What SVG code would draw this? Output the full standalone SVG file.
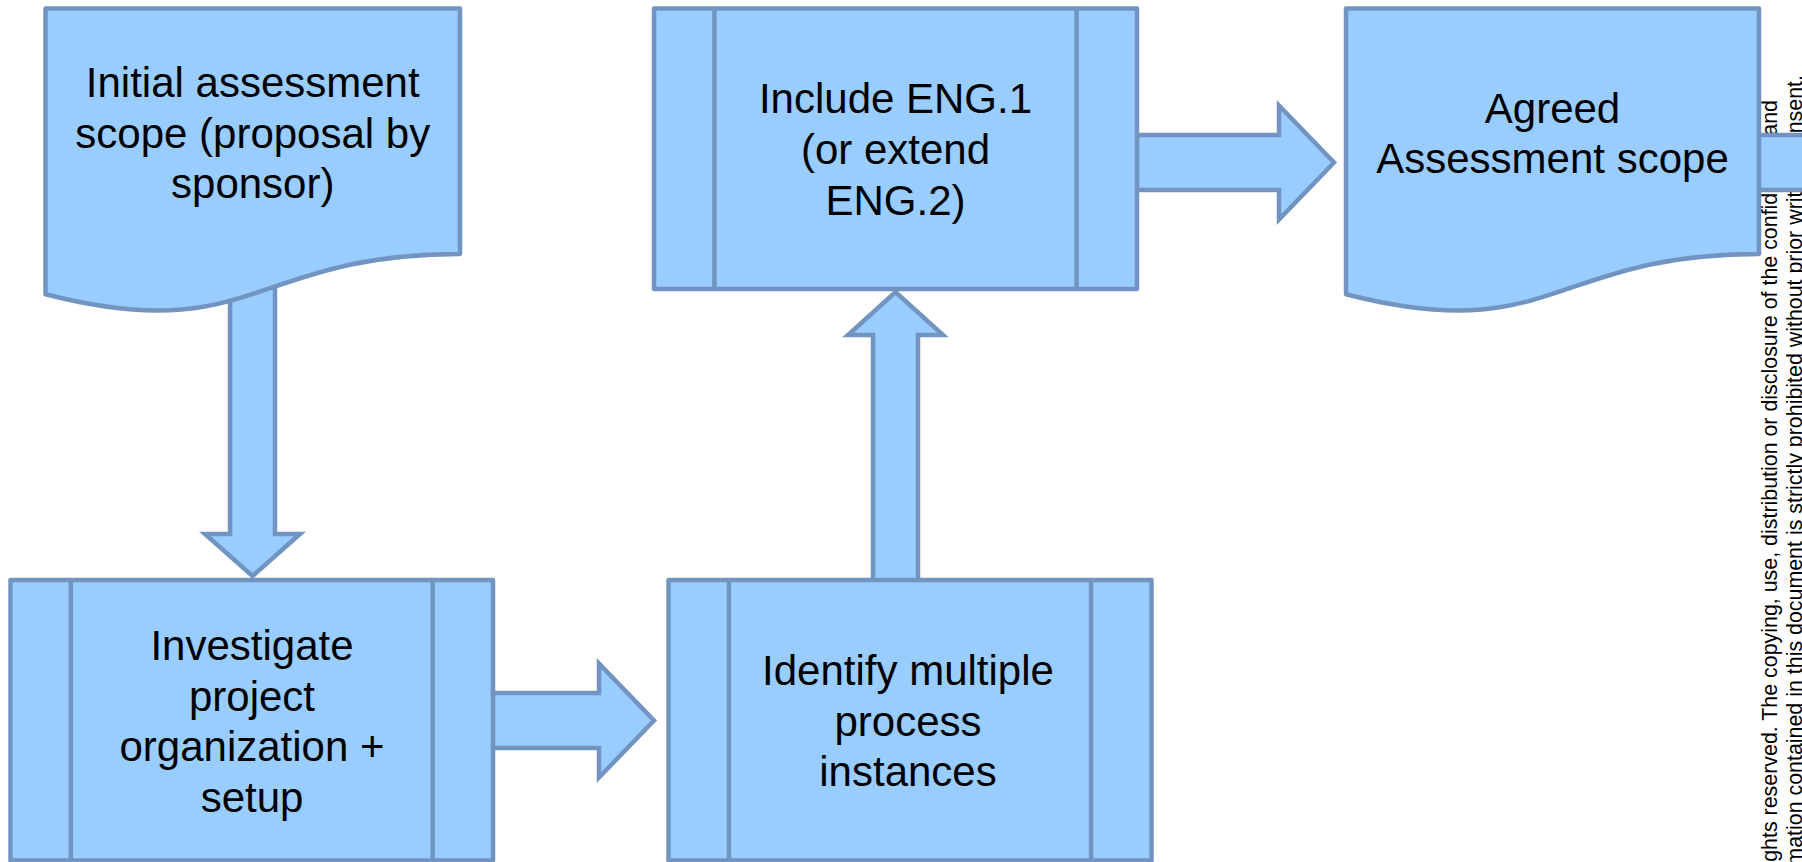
<svg xmlns="http://www.w3.org/2000/svg" width="1802" height="862" viewBox="0 0 1802 862">
  <style>
    .shape { fill: #99CCFF; stroke: #7195C0; stroke-width: 4.5; stroke-linejoin: round; }
    .arrow { fill: #99CCFF; stroke: #7195C0; stroke-width: 4.5; stroke-linejoin: miter; stroke-miterlimit: 10; }
    .bar { fill: none; stroke: #7195C0; stroke-width: 4.5; }
    .label { font-family: "Liberation Sans", Arial, sans-serif; font-size: 42px; fill: #000; text-anchor: middle; }
    .notice { font-family: "Liberation Sans", Arial, sans-serif; font-size: 21.4px; fill: #000; text-anchor: end; }
  </style>

  <!-- confidentiality notice along the right margin -->
  <g id="notice">
    <text class="notice" transform="translate(1777,100) rotate(-90)">ghts reserved. The copying, use, distribution or disclosure of the confidential and</text>
    <text class="notice" transform="translate(1801.5,75) rotate(-90)">mation contained in this document is strictly prohibited without prior written consent.</text>
  </g>

  <!-- block arrows between the steps -->
  <g id="connectors">
    <!-- initial scope down to investigation -->
    <polygon class="arrow" points="230,280 275,280 275,534 300,534 252.5,576 205,534 230,534"/>
    <!-- investigation right to instance identification -->
    <polygon class="arrow" points="488,693 599,693 599,663.5 654,720.5 599,777.5 599,748 488,748"/>
    <!-- instance identification up to ENG.1 step -->
    <polygon class="arrow" points="873,586 873,335 848,335 895.5,292 943,335 918,335 918,586"/>
    <!-- ENG.1 step right to agreed scope -->
    <polygon class="arrow" points="1130,135 1279,135 1279,105.5 1334,162.5 1279,219.5 1279,190 1130,190"/>
    <!-- outgoing arrow from agreed scope -->
    <polygon class="arrow" points="1752,135 1830,135 1830,190 1752,190"/>
  </g>

  <g id="initial-scope">
    <path class="shape" d="M45.5,8.5 H460 V253.9 C252.75,253.9 252.75,347.4 45.5,294.3 Z"/>
    <text class="label" x="252.75" y="97">Initial assessment</text>
    <text class="label" x="252.75" y="147.5">scope (proposal by</text>
    <text class="label" x="252.75" y="198">sponsor)</text>
  </g>

  <g id="include-eng">
    <rect class="shape" x="654" y="8.5" width="483" height="280.5"/>
    <line class="bar" x1="714.4" y1="8.5" x2="714.4" y2="289"/>
    <line class="bar" x1="1076.6" y1="8.5" x2="1076.6" y2="289"/>
    <text class="label" x="895.5" y="113">Include ENG.1</text>
    <text class="label" x="895.5" y="164">(or extend</text>
    <text class="label" x="895.5" y="215">ENG.2)</text>
  </g>

  <g id="agreed-scope">
    <path class="shape" d="M1346,8.5 H1759 V253.9 C1552.5,253.9 1552.5,347.4 1346,294.3 Z"/>
    <text class="label" x="1552.5" y="123">Agreed</text>
    <text class="label" x="1552.5" y="173">Assessment scope</text>
  </g>

  <g id="investigate">
    <rect class="shape" x="10.5" y="580" width="482.5" height="280.5"/>
    <line class="bar" x1="70.8" y1="580" x2="70.8" y2="860.5"/>
    <line class="bar" x1="432.7" y1="580" x2="432.7" y2="860.5"/>
    <text class="label" x="252" y="660">Investigate</text>
    <text class="label" x="252" y="710.5">project</text>
    <text class="label" x="252" y="761">organization +</text>
    <text class="label" x="252" y="811.5">setup</text>
  </g>

  <g id="identify-instances">
    <rect class="shape" x="668.5" y="580" width="483" height="280.5"/>
    <line class="bar" x1="728.9" y1="580" x2="728.9" y2="860.5"/>
    <line class="bar" x1="1091.1" y1="580" x2="1091.1" y2="860.5"/>
    <text class="label" x="908" y="685">Identify multiple</text>
    <text class="label" x="908" y="735.5">process</text>
    <text class="label" x="908" y="786">instances</text>
  </g>
</svg>
